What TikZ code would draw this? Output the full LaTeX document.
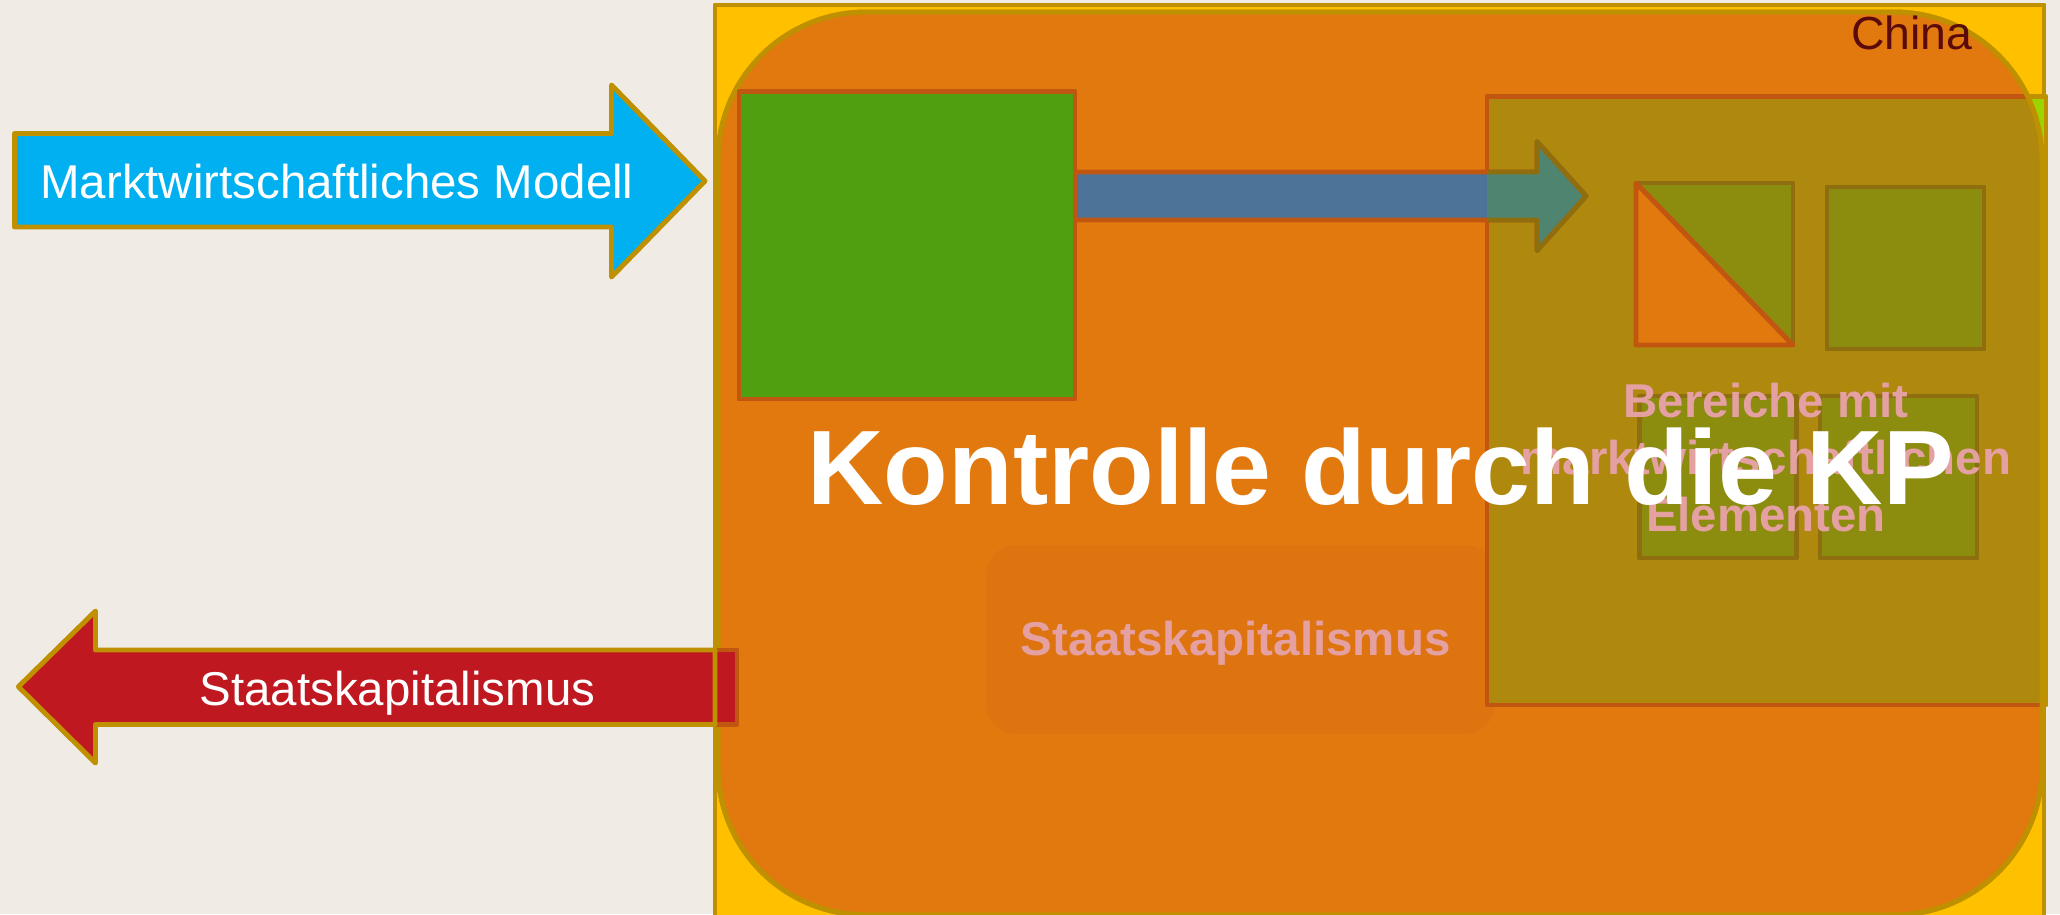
\documentclass[tikz,border=0pt]{standalone}
\usepackage{fontspec}
\setmainfont{Liberation Sans}

\definecolor{hintergrund}{HTML}{F0EBE5}
\definecolor{gold}{HTML}{BF9000}
\definecolor{gelb}{HTML}{FFC000}
\definecolor{chinaorange}{HTML}{E2790E}
\definecolor{innenorange}{HTML}{DE7410}
\definecolor{dunkelorange}{HTML}{C0560F}
\definecolor{cyanblau}{HTML}{00B0F0}
\definecolor{rot}{HTML}{C01820}
\definecolor{gruen}{HTML}{4F9F10}
\definecolor{hellgruen}{HTML}{9CD400}
\definecolor{stahlblau}{HTML}{4E7399}
\definecolor{petrol}{HTML}{4E8470}
\definecolor{oliv}{HTML}{AF880E}
\definecolor{quadrat}{HTML}{8C8C0F}
\definecolor{quadratrand}{HTML}{8F6E10}
\definecolor{rosa}{HTML}{E5A0A2}
\definecolor{kastanie}{HTML}{5A0A0A}

\begin{document}
\begin{tikzpicture}[
	rand/.style={line width=1.4pt, line join=round},
	etikett/.style={text=white, font=\fontsize{13.5}{16.2}\selectfont, inner sep=0pt, anchor=base},
	rosatext/.style={text=rosa, font=\bfseries\fontsize{13.5}{16.2}\selectfont, inner sep=0pt}
	]
	
	% Hintergrund
	\fill[hintergrund] (0,0) rectangle (20.6,-9.14);
	\useasboundingbox (0,0) rectangle (20.6,-9.14);
	
	%% MARKTWIRTSCHAFT
	\filldraw[fill=cyanblau, draw=gold, rand] (0.145,-1.335) -- (6.115,-1.335) -- (6.115,-0.85) -- (7.05,-1.81)
		-- (6.115,-2.77) -- (6.115,-2.27) -- (0.145,-2.27) -- cycle;
	\node[etikett] (markt) at (3.37,-1.987) {Marktwirtschaftliches Modell};
	
	%% CHINA
	% Rahmen
	\filldraw[fill=gelb, draw=gold, rand] (7.15,-0.05) rectangle (20.44,-9.4);
	\filldraw[fill=chinaorange, draw=gold, rand, rounded corners=1.48cm] (7.18,-0.12) rectangle (20.42,-9.15);
	
	% Staatskapitalismus innen
	\fill[innenorange, rounded corners=0.3cm] (9.86,-5.45) rectangle (14.95,-7.34);
	\node[rosatext, anchor=base] (staatinnen) at (12.355,-6.55) {Staatskapitalismus};
	
	% Bereiche
	\fill[hellgruen] (14.87,-0.965) rectangle (20.46,-7.05);
	\draw[gold, rand] (14.87,-0.965) rectangle (20.46,-7.05);
	\begin{scope}
		\clip[rounded corners=1.48cm] (7.18,-0.12) rectangle (20.42,-9.15);
		\filldraw[fill=oliv, draw=dunkelorange, rand] (14.87,-0.965) rectangle (20.46,-7.05);
	\end{scope}
	% Rand nochmal
	\draw[gold, rand, rounded corners=1.48cm] (7.18,-0.12) rectangle (20.42,-9.15);
	
	% Pfeil
	\filldraw[fill=stahlblau, draw=dunkelorange, rand] (10.75,-1.72) -- (15.37,-1.72) -- (15.37,-1.416) -- (15.86,-1.96)
		-- (15.37,-2.506) -- (15.37,-2.20) -- (10.75,-2.20) -- cycle;
	\begin{scope}
		\clip (14.87,-0.965) rectangle (20.46,-7.05);
		\filldraw[fill=petrol, draw=quadratrand, rand] (10.75,-1.72) -- (15.37,-1.72) -- (15.37,-1.416) -- (15.86,-1.96)
			-- (15.37,-2.506) -- (15.37,-2.20) -- (10.75,-2.20) -- cycle;
	\end{scope}
	
	% Modell
	\filldraw[fill=gruen, draw=dunkelorange, rand] (7.39,-0.915) rectangle (10.75,-3.99);
	
	% Quadrate
	\foreach \x/\y in {16.36/-1.83, 18.27/-1.87, 16.395/-3.96, 18.20/-3.96}
	{
		\filldraw[fill=quadrat, draw=quadratrand, rand] (\x,\y) rectangle ++(1.57,-1.62);
	}
	\filldraw[fill=chinaorange, draw=dunkelorange, rand] (16.36,-1.83) -- (16.36,-3.45) -- (17.93,-3.45) -- cycle;
	
	\node[rosatext, align=center] (bereiche) at (17.66,-4.575) {Bereiche mit\\marktwirtschaftlichen\\Elementen};
	
	\node[text=white, font=\bfseries\fontsize{30.1}{36}\selectfont, inner sep=0pt, anchor=base] (kontrolle) at (13.805,-5.04) {Kontrolle durch die KP};
	
	\node[text=kastanie, font=\fontsize{13.2}{16}\selectfont, inner sep=0pt, anchor=base] (china) at (19.12,-0.495) {China};
	
	%% STAATSKAPITALISMUS
	\filldraw[fill=rot, draw=dunkelorange, rand] (7.15,-6.5) rectangle (7.37,-7.245);
	\filldraw[fill=rot, draw=gold, rand] (7.15,-6.5) -- (0.955,-6.5) -- (0.955,-6.11) -- (0.184,-6.867)
		-- (0.955,-7.63) -- (0.955,-7.245) -- (7.15,-7.245) -- cycle;
	\node[etikett] (staat) at (3.975,-7.05) {Staatskapitalismus};
	
\end{tikzpicture}
\end{document}
